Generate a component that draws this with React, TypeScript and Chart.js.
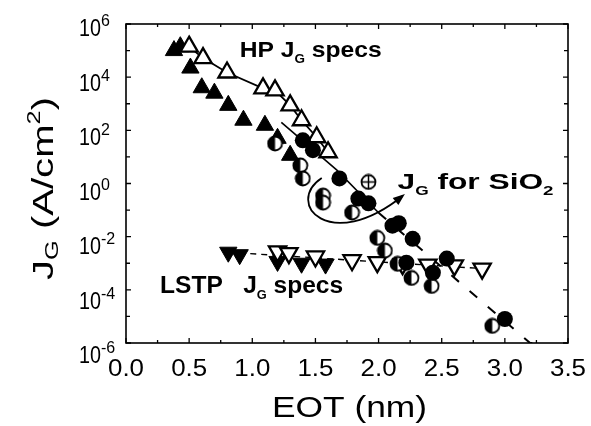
import React, { useEffect, useRef } from 'react';
import { Chart, registerables } from 'chart.js';

Chart.register(...registerables);

const FONT = '"Liberation Sans", Arial, Helvetica, sans-serif';

// Axis ticks
const xTickValues = [0, 0.5, 1.0, 1.5, 2.0, 2.5, 3.0, 3.5];
const xTickLabels = ['0.0', '0.5', '1.0', '1.5', '2.0', '2.5', '3.0', '3.5'];
const yLabelExponents = [6, 4, 2, 0, -2, -4, -6];

// HP J_G specs (open up-triangles, joined by a solid line)
const hpSpecEot = [0.5, 0.61, 0.8, 1.085, 1.18, 1.3, 1.39, 1.51, 1.6];
const hpSpecJg = [1.4e5, 5.2e4, 1.5e4, 3.8e3, 3.2e3, 870, 240, 55, 15];

// High-k data (filled up-triangles)
const hiKEot = [0.38, 0.43, 0.51, 0.6, 0.7, 0.81, 0.93, 1.1, 1.2, 1.3];
const hiKJg = [1e5, 1.4e5, 2.2e4, 4e3, 2.5e3, 870, 240, 155, 50, 11.5];

// SiO2 data (filled circles)
const sio2FilledEot = [1.4, 1.48, 1.69, 1.84, 1.92, 2.11, 2.16, 2.27, 2.22, 2.54, 2.43, 3.0];
const sio2FilledJg = [42, 18, 1.55, 0.27, 0.18, 0.026, 0.032, 8.3e-3, 1.05e-3, 1.5e-3, 4.4e-4, 8e-6];

// SiO2 data (half-filled circles)
const sio2HalfEot = [1.18, 1.38, 1.4, 1.56, 1.56, 1.79, 1.99, 2.05, 2.15, 2.26, 2.42, 2.9];
const sio2HalfJg = [32, 4.8, 1.55, 0.35, 0.19, 0.081, 9e-3, 3e-3, 9.5e-4, 2.8e-4, 1.4e-4, 4.4e-6];

// SiO2 data (crossed circles)
const sio2CrossEot = [1.92];
const sio2CrossJg = [1.14];

// LSTP J_G specs (open down-triangles)
const lstpSpecEot = [1.2, 1.29, 1.5, 1.79, 1.99, 2.19, 2.39, 2.6, 2.82];
const lstpSpecJg = [2.8e-3, 2.4e-3, 1.8e-3, 1.3e-3, 1.1e-3, 9.3e-4, 8.9e-4, 8.3e-4, 6.3e-4];

// Low-power data (filled down-triangles)
const lstpEot = [0.81, 0.9, 1.2, 1.39, 1.58];
const lstpJg = [2.6e-3, 2.1e-3, 1.17e-3, 1e-3, 9.3e-4];

// Guide lines
const lstpGuideEot = [0.81, 2.82];
const lstpGuideJg = [2.6e-3, 6.3e-4];
const sio2SolidEot = [1.23, 1.67, 2.0];
const sio2SolidJg = [200, 3.2, 0.079];
const sio2DashEot = [2.0, 3.2, 3.3];
const sio2DashJg = [0.079, 1e-6, 1e-6];

// Curved arrow pointing at the SiO2 trend (start, control 1, control 2, tip)
const arrowEot = [1.55, 1.25, 1.615, 2.19];
const arrowJg = [1.6, 0.178, 2.2e-3, 0.34];

const pts = (xs: number[], ys: number[]) => xs.map((x, i) => ({ x, y: ys[i] }));

function makeHalfCircle(): HTMLCanvasElement {
  const c = document.createElement('canvas');
  c.width = 17;
  c.height = 17;
  const g = c.getContext('2d')!;
  const r = 7;
  const m = 8.5;
  g.beginPath();
  g.arc(m, m, r, 0, Math.PI * 2);
  g.fillStyle = '#fff';
  g.fill();
  g.beginPath();
  g.moveTo(m, m);
  g.arc(m, m, r, Math.PI / 2, Math.PI * 1.5);
  g.closePath();
  g.fillStyle = '#000';
  g.fill();
  g.beginPath();
  g.arc(m, m, r, 0, Math.PI * 2);
  g.lineWidth = 1.8;
  g.strokeStyle = '#000';
  g.stroke();
  return c;
}

function makeCrossCircle(): HTMLCanvasElement {
  const c = document.createElement('canvas');
  c.width = 17;
  c.height = 17;
  const g = c.getContext('2d')!;
  const r = 7;
  const m = 8.5;
  g.beginPath();
  g.arc(m, m, r, 0, Math.PI * 2);
  g.fillStyle = '#fff';
  g.fill();
  g.lineWidth = 1.8;
  g.strokeStyle = '#000';
  g.stroke();
  g.beginPath();
  g.moveTo(m - r, m);
  g.lineTo(m + r, m);
  g.moveTo(m, m - r);
  g.lineTo(m, m + r);
  g.lineWidth = 1.5;
  g.stroke();
  return c;
}

type Run = { t: string; size: number; bold?: boolean; dy?: number };

// Draws a sequence of text runs, stretched horizontally to the given width.
function drawRuns(
  ctx: CanvasRenderingContext2D,
  runs: Run[],
  x: number,
  y: number,
  width: number | null,
  align: 'left' | 'center' | 'right'
) {
  ctx.save();
  ctx.textBaseline = 'alphabetic';
  ctx.textAlign = 'left';
  const widths = runs.map((r) => {
    ctx.font = `${r.bold ? 'bold ' : ''}${r.size}px ${FONT}`;
    return ctx.measureText(r.t).width;
  });
  const total = widths.reduce((a, b) => a + b, 0);
  const sx = width ? width / total : 1;
  ctx.translate(x, y);
  ctx.scale(sx, 1);
  let cx = align === 'center' ? -total / 2 : align === 'right' ? -total : 0;
  runs.forEach((r, i) => {
    ctx.font = `${r.bold ? 'bold ' : ''}${r.size}px ${FONT}`;
    ctx.fillStyle = '#000';
    ctx.fillText(r.t, cx, r.dy || 0);
    cx += widths[i];
  });
  ctx.restore();
}

const decorations = {
  id: 'decorations',
  afterDraw(chart: any) {
    const ctx: CanvasRenderingContext2D = chart.ctx;
    const xs = chart.scales.x;
    const ys = chart.scales.y;
    const { left, right, top, bottom } = chart.chartArea;
    const px = (v: number) => xs.getPixelForValue(v);
    const py = (v: number) => ys.getPixelForValue(v);

    ctx.save();
    ctx.strokeStyle = '#000';
    ctx.fillStyle = '#000';

    // Curved arrow
    const a = arrowEot.map((e, i) => [px(e), py(arrowJg[i])]);
    ctx.lineWidth = 1.8;
    ctx.beginPath();
    ctx.moveTo(a[0][0], a[0][1]);
    ctx.bezierCurveTo(a[1][0], a[1][1], a[2][0], a[2][1], a[3][0], a[3][1]);
    ctx.stroke();
    const ang = Math.atan2(a[3][1] - a[2][1], a[3][0] - a[2][0]);
    const hl = 12;
    const hw = 4.5;
    const tx = a[3][0] + Math.cos(ang) * 3;
    const ty = a[3][1] + Math.sin(ang) * 3;
    ctx.beginPath();
    ctx.moveTo(tx, ty);
    ctx.lineTo(tx - hl * Math.cos(ang) - hw * Math.sin(ang), ty - hl * Math.sin(ang) + hw * Math.cos(ang));
    ctx.lineTo(tx - hl * Math.cos(ang) + hw * Math.sin(ang), ty - hl * Math.sin(ang) - hw * Math.cos(ang));
    ctx.closePath();
    ctx.fill();

    // Frame
    ctx.lineWidth = 1.6;
    ctx.strokeRect(left, top, right - left, bottom - top);

    // Inward ticks on all four sides
    ctx.lineWidth = 1.3;
    ctx.beginPath();
    for (let k = 0; k <= 14; k++) {
      const v = k * 0.25;
      const x = px(v);
      const len = k % 2 === 0 ? 5 : 3;
      ctx.moveTo(x, bottom);
      ctx.lineTo(x, bottom - len);
      ctx.moveTo(x, top);
      ctx.lineTo(x, top + len);
    }
    for (let e = -6; e <= 6; e++) {
      const y = py(Math.pow(10, e));
      const len = e % 2 === 0 ? 5 : 4;
      ctx.moveTo(left, y);
      ctx.lineTo(left + len, y);
      ctx.moveTo(right, y);
      ctx.lineTo(right - len, y);
    }
    ctx.stroke();
    ctx.restore();

    // X tick labels
    xTickValues.forEach((v, i) => {
      drawRuns(ctx, [{ t: xTickLabels[i], size: 23 }], px(v), bottom + 33, 36, 'center');
    });

    // Y tick labels (10 with superscript exponent)
    yLabelExponents.forEach((e) => {
      const y = py(Math.pow(10, e));
      const base = y + 12 + ((6 - e) / 12) * 8;
      drawRuns(ctx, [{ t: '10', size: 24 }], left - 25, base, 22, 'right');
      drawRuns(ctx, [{ t: String(e), size: 16 }], left - 25, base - 10, null, 'left');
    });

    // Axis titles
    drawRuns(ctx, [{ t: 'EOT (nm)', size: 30 }], 349.5, bottom + 74, 155, 'center');
    ctx.save();
    ctx.translate(53, 188.5);
    ctx.rotate(-Math.PI / 2);
    drawRuns(
      ctx,
      [
        { t: 'J', size: 30 },
        { t: 'G', size: 19, dy: 5 },
        { t: ' (A/cm', size: 30 },
        { t: '2', size: 19, dy: -13 },
        { t: ')', size: 30 },
      ],
      0,
      0,
      183,
      'center'
    );
    ctx.restore();

    // In-plot labels
    drawRuns(
      ctx,
      [
        { t: 'HP J', size: 22, bold: true },
        { t: 'G', size: 12, bold: true, dy: 6 },
        { t: ' specs', size: 22, bold: true },
      ],
      px(0.9),
      py(Math.pow(10, 4.76)),
      142,
      'left'
    );
    drawRuns(
      ctx,
      [
        { t: 'J', size: 22, bold: true },
        { t: 'G', size: 12, bold: true, dy: 6 },
        { t: ' for SiO', size: 22, bold: true },
        { t: '2', size: 13, bold: true, dy: 6 },
      ],
      px(2.15),
      py(Math.pow(10, -0.21)),
      156,
      'left'
    );
    drawRuns(
      ctx,
      [
        { t: 'LSTP   J', size: 23, bold: true },
        { t: 'G', size: 12, bold: true, dy: 6 },
        { t: ' specs', size: 23, bold: true },
      ],
      px(0.27),
      py(Math.pow(10, -4.12)),
      183,
      'left'
    );
  },
};

export default function App() {
  const ref = useRef<HTMLCanvasElement>(null);

  useEffect(() => {
    const half = makeHalfCircle();
    const cross = makeCrossCircle();
    const chart = new Chart(ref.current!, {
      type: 'scatter',
      data: {
        datasets: [
          {
            label: 'SiO2 filled',
            data: pts(sio2FilledEot, sio2FilledJg),
            pointStyle: 'circle',
            pointRadius: 8,
            backgroundColor: '#000',
            borderColor: '#000',
            borderWidth: 0,
            order: 1,
          },
          {
            label: 'SiO2 half',
            data: pts(sio2HalfEot, sio2HalfJg),
            pointStyle: half as any,
            order: 2,
          },
          {
            label: 'SiO2 crossed',
            data: pts(sio2CrossEot, sio2CrossJg),
            pointStyle: cross as any,
            order: 3,
          },
          {
            label: 'HP JG specs',
            data: pts(hpSpecEot, hpSpecJg),
            showLine: true,
            pointStyle: 'triangle',
            pointRadius: 10,
            backgroundColor: '#fff',
            borderColor: '#000',
            borderWidth: 1.8,
            pointBorderWidth: 2.3,
            order: 4,
          } as any,
          {
            label: 'High-k',
            data: pts(hiKEot, hiKJg),
            pointStyle: 'triangle',
            pointRadius: 10,
            backgroundColor: '#000',
            borderColor: '#000',
            borderWidth: 1,
            order: 5,
          },
          {
            label: 'LSTP JG specs',
            data: pts(lstpSpecEot, lstpSpecJg),
            pointStyle: 'triangle',
            rotation: 180,
            pointRadius: 10,
            backgroundColor: '#fff',
            borderColor: '#000',
            borderWidth: 2.3,
            order: 6,
          },
          {
            label: 'LSTP',
            data: pts(lstpEot, lstpJg),
            pointStyle: 'triangle',
            rotation: 180,
            pointRadius: 10,
            backgroundColor: '#000',
            borderColor: '#000',
            borderWidth: 1,
            order: 7,
          },
          {
            label: 'LSTP guide',
            data: pts(lstpGuideEot, lstpGuideJg),
            showLine: true,
            pointRadius: 0,
            borderColor: '#000',
            borderWidth: 1.4,
            borderDash: [6, 5],
            order: 8,
          },
          {
            label: 'SiO2 trend',
            data: pts(sio2SolidEot, sio2SolidJg),
            showLine: true,
            pointRadius: 0,
            borderColor: '#000',
            borderWidth: 1.6,
            order: 9,
          },
          {
            label: 'SiO2 trend dashed',
            data: pts(sio2DashEot, sio2DashJg),
            showLine: true,
            pointRadius: 0,
            borderColor: '#000',
            borderWidth: 2,
            borderDash: [10, 14],
            order: 10,
          },
        ],
      },
      options: {
        animation: false,
        responsive: false,
        events: [],
        layout: { padding: { left: 126, top: 24, right: 23, bottom: 83 } },
        plugins: { legend: { display: false }, tooltip: { enabled: false } },
        scales: {
          x: { type: 'linear', min: 0, max: 3.5, display: false },
          y: { type: 'logarithmic', min: 1e-6, max: 1e6, display: false },
        },
      },
      plugins: [decorations],
    });
    return () => chart.destroy();
  }, []);

  return (
    <div style={{ position: 'absolute', left: 0, top: 0, width: 591, height: 426, background: '#fff' }}>
      <canvas ref={ref} width={591} height={426} style={{ width: 591, height: 426 }} />
    </div>
  );
}
